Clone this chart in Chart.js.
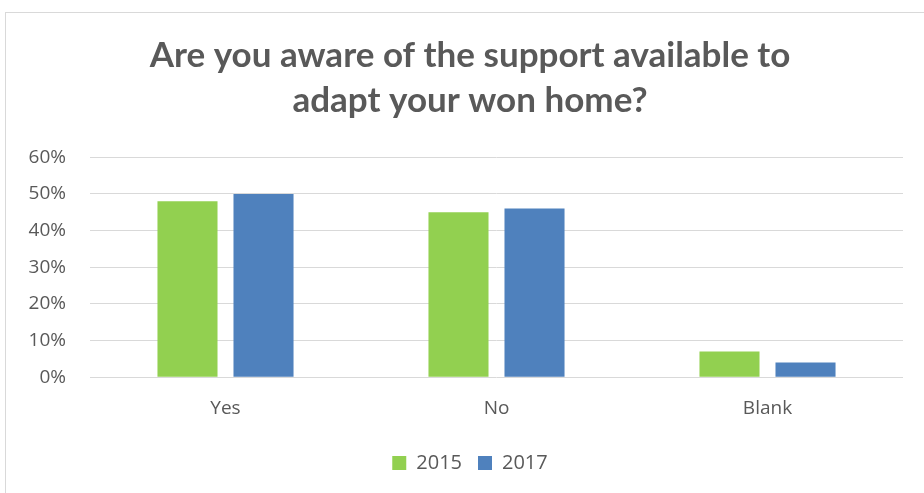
<!DOCTYPE html>
<html lang="en">
<head>
    <meta charset="UTF-8">
    <title>Support awareness</title>
    <script src="https://cdn.jsdelivr.net/npm/chart.js"></script>
    <style>
        body {
            margin: 0;
            padding: 0;
            background: #ffffff;
            width: 924px;
            height: 493px;
            overflow: hidden;
            position: relative;
        }

        #chart-box {
            position: absolute;
            left: 5px;
            top: 12px;
            width: 929px;
            height: 481px;
            border-left: 1px solid #d9d9d9;
            border-top: 1px solid #d9d9d9;
        }
    </style>
</head>
<body>
    <div id="chart-box">
        <canvas id="awareChart" width="928" height="481"></canvas>
    </div>
    <script>
        const categories = ['Yes', 'No', 'Blank'];
        const years = ['2015', '2017'];
        const values2015 = [48, 45, 7];
        const values2017 = [50, 46, 4];
        const yTicks = [0, 10, 20, 30, 40, 50, 60];

        const textColor = '#595959';
        const gridColor = '#d9d9d9';
        const baseFont = 'Open Sans, sans-serif';

        const ctx = document.getElementById('awareChart').getContext('2d');
        const chart = new Chart(ctx, {
            type: 'bar',
            data: {
                labels: categories,
                datasets: [{
                    label: years[0],
                    data: values2015,
                    backgroundColor: '#92d050'
                }, {
                    label: years[1],
                    data: values2017,
                    backgroundColor: '#4f81bd'
                }]
            },
            options: {
                responsive: false,
                animation: false,
                categoryPercentage: 0.561,
                barPercentage: 0.79,
                layout: {
                    padding: { left: 0, right: 0, top: 8, bottom: 11 }
                },
                plugins: {
                    title: {
                        display: true,
                        text: ['Are you aware of the support available to', 'adapt your won home?'],
                        color: textColor,
                        font: { family: 'Lato, sans-serif', size: 35, weight: 'bold', lineHeight: 1.29 },
                        padding: { top: 12, bottom: 34 }
                    },
                    legend: {
                        position: 'bottom',
                        labels: {
                            color: textColor,
                            boxWidth: 14,
                            boxHeight: 14,
                            padding: 16,
                            font: { family: baseFont, size: 20 }
                        }
                    },
                    tooltip: { enabled: false }
                },
                scales: {
                    x: {
                        // a little extra space between the category labels and the legend
                        afterFit: (scale) => { scale.height += 5; },
                        grid: { display: false },
                        border: { display: false },
                        ticks: {
                            color: textColor,
                            padding: 12,
                            font: { family: baseFont, size: 19 }
                        }
                    },
                    y: {
                        min: 0,
                        max: 60,
                        afterFit: (scale) => { scale.width = 84; },
                        afterBuildTicks: (scale) => {
                            scale.ticks = yTicks.map(v => ({ value: v }));
                        },
                        grid: { color: gridColor, lineWidth: 1, drawTicks: false },
                        border: { display: false },
                        ticks: {
                            color: textColor,
                            padding: 24,
                            font: { family: baseFont, size: 19 },
                            callback: (v) => v + '%'
                        }
                    },
                    // empty strip on the right so the plot stops short of the edge
                    // while title and legend stay centred on the whole box
                    rightGap: {
                        type: 'linear',
                        axis: 'y',
                        position: 'right',
                        grid: { display: false },
                        border: { display: false },
                        ticks: { display: false },
                        afterFit: (scale) => { scale.width = 31; }
                    }
                }
            }
        });
    </script>
</body>
</html>
